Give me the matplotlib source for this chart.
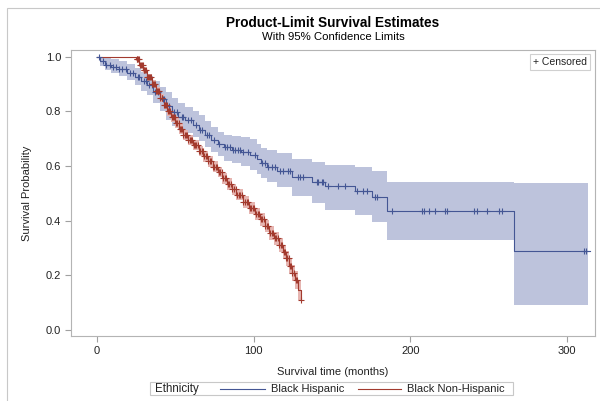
import numpy as np
import matplotlib
matplotlib.use("Agg")
import matplotlib.pyplot as plt
from matplotlib.lines import Line2D
from matplotlib.patches import Rectangle

plt.rcParams['font.family'] = ['Liberation Sans', 'DejaVu Sans']

# ---------------- data ----------------
groups = ["Black Hispanic", "Black Non-Hispanic"]

# Black Hispanic
bh_time = [0, 2, 5, 9, 14, 19, 24, 28, 32, 36, 40, 44, 48, 52, 56, 61, 65, 69, 73, 77, 81,
           86, 92, 98, 102, 105, 108.6, 115, 124.6, 137.4, 145.7, 164.9, 175.7, 185.3, 266.5]
bh_surv = [1.0, 0.985, 0.97, 0.962, 0.955, 0.94, 0.925, 0.91, 0.895, 0.872, 0.845, 0.82, 0.797,
           0.78, 0.768, 0.75, 0.733, 0.715, 0.695, 0.68, 0.668, 0.66, 0.652, 0.64, 0.625, 0.61,
           0.595, 0.583, 0.56, 0.543, 0.527, 0.51, 0.488, 0.435, 0.289]
bh_ucl = [1.0, 1.0, 0.995, 0.99, 0.985, 0.975, 0.96, 0.945, 0.93, 0.91, 0.89, 0.87, 0.85, 0.832,
          0.815, 0.80, 0.785, 0.765, 0.743, 0.725, 0.715, 0.71, 0.705, 0.70, 0.68, 0.667, 0.66,
          0.647, 0.625, 0.615, 0.604, 0.595, 0.58, 0.54, 0.537]
bh_lcl = [1.0, 0.965, 0.95, 0.94, 0.93, 0.915, 0.895, 0.875, 0.86, 0.83, 0.80, 0.77, 0.745, 0.73,
          0.72, 0.705, 0.69, 0.67, 0.65, 0.635, 0.62, 0.61, 0.60, 0.585, 0.57, 0.555, 0.54, 0.523,
          0.49, 0.465, 0.44, 0.42, 0.395, 0.33, 0.09]
bh_tmax = 315
bh_band_end = 313.7
bh_cens = [1, 4, 6, 8.5, 10, 12, 14, 16, 18.5, 21, 23, 26, 27, 30, 31, 33, 35, 37, 39, 42, 43,
           46, 49, 51, 54, 55, 58, 60, 63, 66, 67, 70, 71.5, 75, 78, 82, 83, 85, 87, 88, 90,
           91.4, 93.3, 96.5, 101, 105.4, 107.3, 109.3, 111.8, 113.7, 116.9, 118.8, 122, 123.3,
           128.4, 129.7, 131.6, 140.6, 141.2, 143.8, 144.4, 147.6, 154, 158.5, 166.1, 170,
           172.5, 177.6, 178.9, 188.3, 207.5, 208.5, 211.7, 216, 222.4, 223.4, 240.5, 242.6,
           249, 256.4, 258.5, 310.7, 312.5]

# Black Non-Hispanic
bn_time = [0, 25, 27, 29.4, 32, 35, 37.5, 40, 42.5, 45, 47.5, 50, 52.5, 55, 58, 61.5, 65, 68,
           71, 74, 77, 80, 83, 86, 89, 93, 97, 101, 104, 107, 110, 113, 116, 118.5, 120.5,
           122.5, 124.5, 126.5, 128.5, 130]
bn_surv = [1.0, 0.99, 0.97, 0.95, 0.925, 0.90, 0.875, 0.85, 0.825, 0.80, 0.778, 0.757, 0.735,
           0.714, 0.695, 0.677, 0.655, 0.635, 0.617, 0.597, 0.578, 0.555, 0.535, 0.515, 0.495,
           0.468, 0.445, 0.425, 0.405, 0.38, 0.355, 0.335, 0.31, 0.285, 0.262, 0.235, 0.208,
           0.183, 0.146, 0.11]
bn_ucl = [1.0, 0.995, 0.978, 0.96, 0.937, 0.913, 0.889, 0.865, 0.841, 0.816, 0.795, 0.774,
          0.753, 0.732, 0.713, 0.696, 0.674, 0.654, 0.637, 0.617, 0.598, 0.575, 0.556, 0.536,
          0.516, 0.49, 0.467, 0.447, 0.428, 0.403, 0.379, 0.359, 0.335, 0.311, 0.289, 0.263,
          0.238, 0.215, 0.182, 0.155]
bn_lcl = [1.0, 0.985, 0.962, 0.94, 0.913, 0.887, 0.861, 0.835, 0.809, 0.784, 0.761, 0.740,
          0.717, 0.696, 0.677, 0.658, 0.636, 0.616, 0.597, 0.577, 0.558, 0.535, 0.514, 0.494,
          0.474, 0.446, 0.423, 0.403, 0.382, 0.357, 0.331, 0.311, 0.285, 0.259, 0.235, 0.207,
          0.178, 0.151, 0.11, 0.065]
bn_tmax = 130.5
bn_band_end = 130.5
bn_cens = [25.3, 25.8, 26.3, 26.8, 27.4, 28, 28.6, 29.1, 29.7, 30.3, 30.8, 31.4, 32.2, 32.8,
           33.5, 34.1, 34.7, 35.4, 36, 36.6, 37.2, 37.8, 38.5, 39.2, 39.8, 40.5, 41.2, 41.8,
           42.6, 43.3, 44, 44.7, 45.4, 46.1, 46.8, 47.6, 48.3, 49, 49.8, 50.6, 51.3, 52.1, 52.9,
           53.6, 54.4, 55.2, 56, 56.8, 57.6, 58.4, 59.2, 60, 60.8, 61.7, 62.5, 63.3, 64.2, 65,
           65.9, 66.8, 67.6, 68.5, 69.4, 70.3, 71.2, 72.1, 73, 74, 74.9, 75.8, 76.8, 77.7, 78.7,
           79.6, 80.6, 81.5, 82.5, 83.5, 84.5, 85.5, 86.5, 87.5, 88.5, 89.5, 90.5, 91.5, 92.5,
           93.5, 94.5, 95.5, 96.5, 97.5, 98.5, 99.5, 100.5, 101.5, 102.5, 103.5, 104.5, 105.5,
           106.5, 107.5, 108.5, 109.5, 110.5, 111.5, 112.5, 113.5, 114.5, 115.5, 116.5, 117.5,
           118.3, 119.2, 120, 120.8, 121.6, 122.3, 123, 123.8, 124.8, 125.8, 127, 128, 130.5]

x_ticks = [0, 100, 200, 300]
y_ticks = [0.0, 0.2, 0.4, 0.6, 0.8, 1.0]

BLUE = "#445694"
RED = "#A23A2E"
BLUE_BAND = "#BDC3DC"
RED_BAND = "#E6B5B1"

# ---------------- figure ----------------
W, H = 600, 401
fig = plt.figure(figsize=(W / 100, H / 100), dpi=100)

def fx(px):
    return px / W

def fy(py):
    return 1 - py / H

# outer border
fig.patches.append(Rectangle((fx(7), fy(420)), fx(620) - fx(7), fy(8) - fy(420),
                             transform=fig.transFigure, fill=False, edgecolor="#C8C8C8",
                             linewidth=0.8))

ax = fig.add_axes([fx(71), fy(336), fx(595) - fx(71), fy(50) - fy(336)])


def draw_group(t, s, lo, hi, tmax, band_end, cens, color, band):
    t = np.asarray(t, float)
    s = np.asarray(s, float)
    tb = np.append(t, band_end)
    ax.fill_between(tb, np.append(lo, lo[-1]), np.append(hi, hi[-1]), step="post",
                    color=band, linewidth=0, zorder=1)
    tl = np.append(t, tmax)
    ax.step(tl, np.append(s, s[-1]), where="post", color=color, linewidth=0.8, zorder=3)
    c = np.asarray(cens, float)
    idx = np.searchsorted(t, c, side="right") - 1
    ax.plot(c, s[idx], linestyle="none", marker="+", markersize=5, markeredgewidth=0.8,
            color=color, zorder=4)


draw_group(bh_time, bh_surv, bh_lcl, bh_ucl, bh_tmax, bh_band_end, bh_cens, BLUE, BLUE_BAND)
draw_group(bn_time, bn_surv, bn_lcl, bn_ucl, bn_tmax, bn_band_end, bn_cens, RED, RED_BAND)

ax.set_xlim(-16.6, 318)
ax.set_ylim(-0.022, 1.0245)
ax.set_xticks(x_ticks)
ax.set_yticks(y_ticks)
ax.set_yticklabels([f"{v:.1f}" for v in y_ticks])
for sp in ax.spines.values():
    sp.set_color("#B4B4B4")
    sp.set_linewidth(0.8)
ax.tick_params(direction="out", length=4, width=0.8, color="#A0A0A0",
               labelsize=8, labelcolor="#222222", pad=3)
ax.set_xlabel("Survival time (months)", fontsize=8, color="#222222", labelpad=8)
ax.set_ylabel("Survival Probability", fontsize=8, color="#222222", labelpad=10)

# titles
fig.text(fx(333), fy(23), "Product-Limit Survival Estimates", ha="center", va="center",
         fontsize=9.8, fontweight="bold", color="black")
fig.text(fx(333), fy(37.5), "With 95% Confidence Limits", ha="center", va="center",
         fontsize=8.2, color="black")

# censored legend (inset)
ax.text(0.985, 0.975, "+ Censored", transform=ax.transAxes, ha="right", va="top",
        fontsize=7.5, color="#222222",
        bbox=dict(boxstyle="square,pad=0.3", facecolor="white", edgecolor="#D0D0D0",
                  linewidth=0.8))

# bottom legend
fig.patches.append(Rectangle((fx(150), fy(395)), fx(513) - fx(150), fy(382) - fy(395),
                             transform=fig.transFigure, fill=False, edgecolor="#C8C8C8",
                             linewidth=0.8))
ly = fy(388.5)
lb = fy(392)
fig.text(fx(155), lb, "Ethnicity", ha="left", va="baseline", fontsize=8.3, color="#222222")
fig.add_artist(Line2D([fx(220), fx(265)], [ly, ly], color=BLUE, linewidth=0.8,
                      transform=fig.transFigure))
fig.text(fx(271), lb, groups[0], ha="left", va="baseline", fontsize=8, color="#222222")
fig.add_artist(Line2D([fx(358), fx(401)], [ly, ly], color=RED, linewidth=0.8,
                      transform=fig.transFigure))
fig.text(fx(407), lb, groups[1], ha="left", va="baseline", fontsize=8, color="#222222")

fig.savefig("out.png", dpi=100)
